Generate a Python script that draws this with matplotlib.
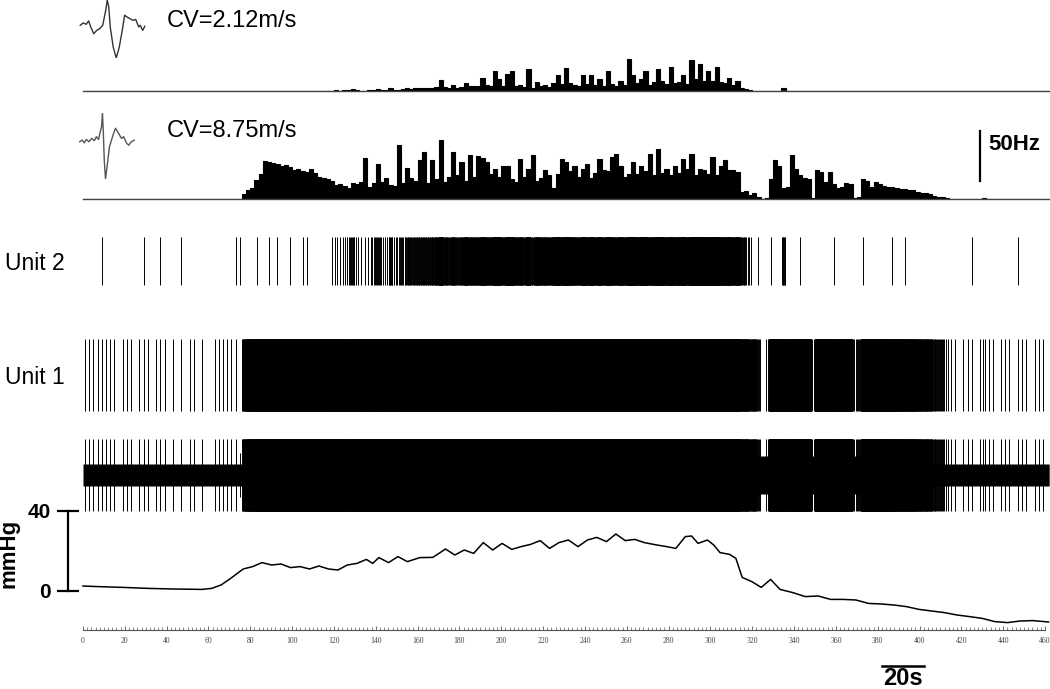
import numpy as np
import matplotlib
matplotlib.use("Agg")
import matplotlib.pyplot as plt
from matplotlib.ticker import MultipleLocator

plt.rcParams['font.family'] = ['Liberation Sans', 'DejaVu Sans']

# ---------------- data ----------------
BIN = 2.0  # s, histogram bin width
# firing rate (Hz) of the slow unit (CV=2.12 m/s, "Unit 2"), 2-s bins from t=0
rate_slow = [
    0, 0, 0, 0, 0.5, 0, 0, 0, 0, 0,
    0, 0, 0, 0, 0.5, 0, 0, 0, 0.5, 0,
    0, 0, 0, 0.5, 0, 0, 0, 0, 0, 0,
    0, 0, 0, 0, 0, 0, 0.5, 0.5, 0, 0,
    0, 0.5, 0, 0, 0.5, 0, 0.5, 0, 0, 0.5,
    0, 0, 0.5, 0.5, 0, 0, 0, 0, 0, 0.5,
    1, 0.5, 1, 1.5, 2.5, 1, 0.5, 0.5, 1, 1.5,
    2.5, 1, 1, 3.5, 1, 1.5, 2, 3, 2.5, 3,
    3, 3.5, 3, 3.5, 4.5, 11, 4, 3, 6, 3,
    4, 8, 5, 5, 5, 13, 6, 5, 20, 12,
    5, 17, 20, 5, 6, 4, 22, 3, 9, 5,
    6, 4, 8, 16, 7, 23, 8, 6, 5, 16,
    7, 16, 6, 12, 5, 20, 7, 5, 10, 6,
    32, 16, 8, 12, 20, 6, 9, 22, 10, 7,
    24, 8, 9, 16, 7, 31, 12, 27, 10, 20,
    10, 24, 9, 8, 13, 6, 10, 3, 2, 1,
    0, 0.5, 0, 0, 0.5, 0, 0, 3, 0, 0,
    0, 0.5, 0, 0, 0, 0, 0, 0, 0, 0.5,
    0, 0, 0, 0, 0, 0, 0.5, 0, 0, 0,
    0, 0, 0, 0.5, 0, 0, 0.5, 0, 0, 0,
    0, 0, 0, 0, 0, 0, 0, 0, 0, 0,
    0, 0, 0.5, 0, 0, 0, 0, 0, 0, 0,
    0, 0, 0, 0.5, 0, 0, 0, 0, 0, 0,
]
# firing rate (Hz) of the fast unit (CV=8.75 m/s, "Unit 1"), 2-s bins from t=0
rate_fast = [
    0.5, 0.5, 0.5, 0.5, 0.5, 0.5, 0.5, 0.5, 0, 0.5,
    0.5, 0.5, 0, 0.5, 0.5, 0.5, 0, 0.5, 0.5, 0.5,
    0, 0.5, 0, 0.5, 0, 0.5, 0.5, 0, 0.5, 0,
    0, 0.5, 0.5, 0.5, 0.5, 0.5, 0.5, 0, 5, 9,
    11, 19, 25, 38, 37, 36, 35, 33, 34, 32,
    29, 30, 28, 27, 30, 26, 22, 21, 20, 18,
    14, 15, 13, 11, 16, 15, 17, 41, 12, 16,
    35, 17, 21, 14, 13, 54, 16, 31, 21, 18,
    39, 47, 16, 39, 20, 59, 17, 22, 47, 24,
    37, 18, 44, 22, 43, 41, 37, 25, 30, 22,
    33, 33, 20, 17, 40, 22, 30, 44, 18, 21,
    29, 24, 11, 25, 40, 37, 28, 33, 22, 30,
    35, 21, 26, 40, 29, 28, 42, 45, 33, 22,
    25, 37, 25, 33, 28, 45, 24, 50, 26, 30,
    24, 33, 26, 40, 30, 45, 24, 30, 29, 25,
    42, 24, 33, 39, 29, 29, 27, 7, 8, 4,
    6, 2, 0, 1, 20, 39, 33, 11, 12, 44,
    30, 24, 21, 20, 1, 29, 27, 17, 27, 15,
    11, 12, 16, 15, 1, 2, 20, 18, 12, 17,
    15, 13, 12, 12, 11, 10, 10, 9, 9, 7,
    6, 6, 5, 3, 2, 2, 1, 0.5, 0.5, 0,
    0.5, 0.5, 0.5, 0, 0.5, 1, 0.5, 0.5, 0, 0.5,
    0.5, 0.5, 0, 0.5, 0.5, 0.5, 0, 0.5, 0.5, 0.5,
]
# half-width of the background noise band in the raw nerve recording (display units)
noise_time = [0, 76, 78, 394, 400, 462]
noise_amp = [11, 11, 19, 19, 11, 11]
# blood pressure change (mmHg) vs time (s)
p_time = [0, 7.1, 19.2, 31.3, 43.3, 56.9, 61.5, 66, 70.6, 76.6, 81.1, 85.6, 90.2,
          94.7, 99.2, 103.8, 108.3, 112.8, 117.4, 121.9, 126.4, 131, 135.5, 138.5,
          141.5, 146.1, 150.6, 155.1, 161.1, 167.2, 170.2, 173.3, 177.8, 182.3,
          186.8, 191.4, 195.9, 200.4, 205, 209.5, 214, 218.6, 223.1, 227.6, 232.1,
          236.7, 241.2, 245.7, 250.3, 254.8, 259.3, 263.9, 268.4, 274.4, 279,
          283.5, 288, 291, 294.1, 298.6, 301.6, 304.6, 309.2, 312.2, 315.2, 319.8,
          324.3, 328.8, 333.3, 339.4, 345.4, 351.5, 357.5, 363.5, 369.6, 375.6,
          381.7, 387.7, 393.7, 399.8, 405.8, 411.9, 417.9, 423.9, 430, 436, 442.1,
          448.1, 454.2, 461.7]
p_mmhg = [2.5, 2.2, 1.8, 1.3, 1.0, 0.8, 1.3, 3.0, 6.3, 11.0, 12.2, 14.2, 13.0,
          13.5, 11.7, 12.2, 11.0, 12.5, 11.0, 10.5, 13.0, 13.8, 15.8, 13.8,
          16.7, 14.2, 17.2, 14.7, 16.7, 16.8, 18.8, 21.0, 18.0, 20.5,
          18.8, 24.2, 20.5, 23.8, 20.8, 22.2, 23.3, 25.2, 21.3, 24.2, 25.5,
          22.2, 25.5, 26.8, 24.7, 28.5, 25.2, 25.8, 24.2, 23.0, 22.2,
          21.3, 27.2, 27.5, 23.8, 25.5, 23.0, 19.2, 18.3, 16.3, 6.8, 4.7,
          1.8, 5.8, 0.8, -0.8, -2.8, -2.5, -4.2, -4.2, -4.5, -6.2,
          -6.5, -7.0, -7.8, -9.2, -10.0, -10.8, -12.0, -12.8, -13.7, -15.3, -15.8,
          -15.0, -14.8, -15.5]
# averaged spike waveforms (arbitrary units)
wf_slow_t = [0, 1, 2, 2.8, 3.5, 4.5, 5.5, 6.5, 7.5, 8.5, 9, 9.5, 10, 11, 12, 13, 14,
             14.8, 15.5, 16.5, 17.5, 18.5, 19.5, 20, 20.8, 21.5]
wf_slow_v = [25, 32, 28, 38, 20, 0, 10, 15, 25, 70, 100, 80, 20, -40, -72, -40, 10,
             55, 50, 45, 40, 42, 20, 25, 10, 22]
wf_fast_t = [0, 0.8, 1.5, 2.2, 3, 4, 4.8, 5.5, 6.2, 6.8, 7.2, 7.5, 7.8, 8.1, 8.5, 9,
             9.8, 11, 11.8, 12.8, 13.8, 14.5, 15.5, 16.2, 17, 18]
wf_fast_v = [5, 10, 2, 12, 5, 15, 8, 20, 12, 35, 50, 90, 30, -50, -105, -70, -10, 25,
             45, 30, 15, 20, 0, -5, 5, 10]
SCALE_HZ = 50
SCALE_S = 20
SCALE_MMHG = 40
TICKS = list(range(0, 461, 20))

# ---------------- helpers ----------------
W_PX, H_PX = 1050, 689
fig = plt.figure(figsize=(W_PX / 100, H_PX / 100), dpi=100)


def px_axes(x0, y0, w, h):
    return fig.add_axes([x0 / W_PX, 1 - (y0 + h) / H_PX, w / W_PX, h / H_PX])


def spike_times(rates):
    out = []
    for i, r in enumerate(rates):
        n = int(round(r * BIN))
        for k in range(n):
            out.append(i * BIN + (k + 0.5) * BIN / n)
    return np.array(out)


X0, X1 = 83, 1045
TMAX = 460
edges = np.arange(len(rate_fast) + 1) * BIN
sp_slow = spike_times(rate_slow)
sp_fast = spike_times(rate_fast)

# ---------------- histograms ----------------
ax_h1 = px_axes(X0, 31, X1 - X0, 60)
ax_h1.stairs(rate_slow, edges, fill=True, color='black', lw=0)
ax_h1.stairs(rate_slow, edges, color='black', lw=0.8)
ax_h1.plot([0, 462], [0, 0], color='#444444', lw=1.0, clip_on=False)
ax_h1.set_ylim(0, 60)

ax_h2 = px_axes(X0, 129, X1 - X0, 70)
ax_h2.stairs(rate_fast, edges, fill=True, color='black', lw=0)
ax_h2.stairs(rate_fast, edges, color='black', lw=0.8)
ax_h2.plot([0, 462], [0, 0], color='#444444', lw=1.0, clip_on=False)
ax_h2.set_ylim(0, 70)
ax_h2.plot([429, 429], [18, 18 + SCALE_HZ], color='black', lw=1.6)
ax_h2.text(433, 54, f'{SCALE_HZ}Hz', fontsize=16, fontweight='bold',
           ha='left', va='center')

# ---------------- unit rasters / traces ----------------
ax_u2 = px_axes(X0, 230, X1 - X0, 62)
ax_u2.vlines(sp_slow, -24, 24, color='black', lw=0.7)
ax_u2.set_ylim(-31, 31)

ax_u1 = px_axes(X0, 330, X1 - X0, 90)
ax_u1.vlines(sp_fast, -36, 36, color='black', lw=0.7)
ax_u1.set_ylim(-45, 45)

ax_raw = px_axes(X0, 430, X1 - X0, 90)
nt = np.linspace(0, 462, 925)
na = np.interp(nt, noise_time, noise_amp)
ax_raw.fill_between(nt, -na, na, color='black', lw=0, clip_on=False)
ax_raw.vlines(sp_fast, -36, 36, color='black', lw=0.7)
ax_raw.vlines(sp_slow, -22, 22, color='black', lw=0.7)
ax_raw.set_ylim(-45, 45)

for ax in (ax_h1, ax_h2, ax_u2, ax_u1, ax_raw):
    ax.set_xlim(0, TMAX)
    ax.axis('off')

# ---------------- pressure ----------------
ax_p = px_axes(X0, 505, X1 - X0, 125)
ax_p.plot(p_time, p_mmhg, color='black', lw=1.1, clip_on=False)
ax_p.set_xlim(0, TMAX)
ax_p.set_ylim(-19.5, 43)
for s in ('top', 'right'):
    ax_p.spines[s].set_visible(False)
ax_p.spines['left'].set_position(('outward', 10.8))
ax_p.spines['left'].set_bounds(0, SCALE_MMHG)
ax_p.spines['left'].set_linewidth(1.6)
ax_p.set_yticks([0, SCALE_MMHG])
ax_p.set_yticklabels(['0', str(SCALE_MMHG)], fontsize=15, fontweight='bold')
ax_p.tick_params(axis='y', direction='inout', length=16.5, width=1.6, pad=4)
ax_p.spines['bottom'].set_color('#555555')
ax_p.spines['bottom'].set_linewidth(0.8)
ax_p.set_xticks(TICKS)
ax_p.set_xticklabels([str(t) for t in TICKS], fontsize=5.5,
                     family=['Liberation Serif', 'DejaVu Serif'], color='#444444')
ax_p.xaxis.set_minor_locator(MultipleLocator(2))
ax_p.tick_params(axis='x', which='major', direction='in', length=3.2, width=0.6,
                 color='#555555', pad=5)
ax_p.tick_params(axis='x', which='minor', direction='in', length=2.0, width=0.5,
                 color='#555555')
ax_p.patch.set_visible(False)
# time scale bar
ax_p.plot([382, 382 + SCALE_S], [-37.5, -37.5], color='black', lw=1.8, clip_on=False)
ax_p.text(382 + SCALE_S / 2, -37.8, f'{SCALE_S}s', fontsize=17, fontweight='bold',
          ha='center', va='top')

fig.text(9 / W_PX, 1 - 553 / H_PX, 'mmHg', rotation=90, fontsize=16,
         fontweight='bold', ha='center', va='center')

# ---------------- waveforms ----------------
ax_w1 = px_axes(77, 0, 71, 58)
ax_w1.plot(wf_slow_t, wf_slow_v, color='#333333', lw=1.0)
ax_w1.set_ylim(-72, 100)
ax_w1.axis('off')
ax_w2 = px_axes(77, 113, 60, 66)
ax_w2.plot(wf_fast_t, wf_fast_v, color='#555555', lw=1.0)
ax_w2.set_ylim(-105, 90)
ax_w2.axis('off')

fig.text(167 / W_PX, 1 - 21 / H_PX, 'CV=2.12m/s', fontsize=17, ha='left', va='center')
fig.text(167 / W_PX, 1 - 131 / H_PX, 'CV=8.75m/s', fontsize=17, ha='left', va='center')
fig.text(5 / W_PX, 1 - 263 / H_PX, 'Unit 2', fontsize=16.5, ha='left', va='center')
fig.text(5 / W_PX, 1 - 378 / H_PX, 'Unit 1', fontsize=16.5, ha='left', va='center')

fig.savefig('out.png', dpi=100)
